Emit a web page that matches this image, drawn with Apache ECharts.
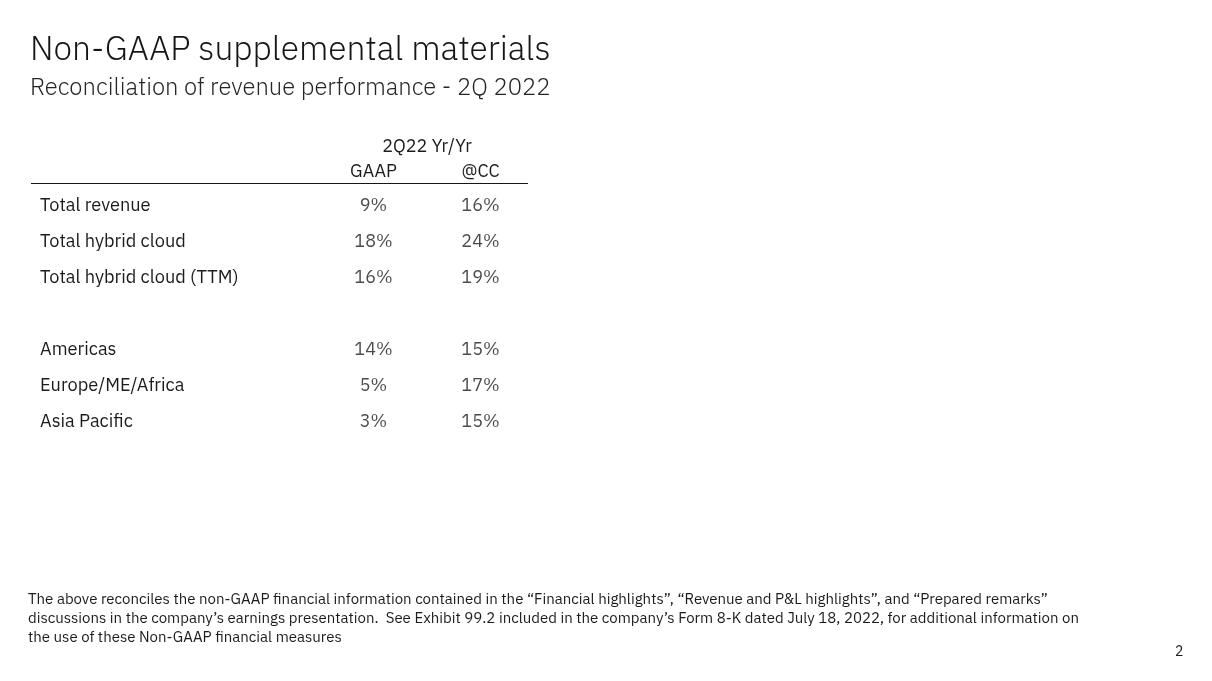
<!DOCTYPE html>
<html><head><meta charset="utf-8">
<script src="https://cdn.jsdelivr.net/npm/echarts@6/dist/echarts.min.js"></script>
<style>html,body{margin:0;padding:0;background:#fff}#c{width:1212px;height:681px}</style>
</head><body><div id="c"></div>
<script>
const rows = ['Total revenue','Total hybrid cloud','Total hybrid cloud (TTM)',' ','Americas','Europe/ME/Africa','Asia Pacific'];
const columns = ['GAAP','@CC'];
const gaapValues = [9, 18, 16, null, 14, 5, 3];
const ccValues = [16, 24, 19, null, 15, 17, 15];
const header = '2Q22 Yr/Yr';
const title = 'Non-GAAP supplemental materials';
const subtitle = 'Reconciliation of revenue performance - 2Q 2022';
const footnote = 'The above reconciles the non-GAAP financial information contained in the \u201cFinancial highlights\u201d, \u201cRevenue and P&L highlights\u201d, and \u201cPrepared remarks\u201d\ndiscussions in the company\u2019s earnings presentation.  See Exhibit 99.2 included in the company\u2019s Form 8-K dated July 18, 2022, for additional information on\nthe use of these Non-GAAP financial measures';
const pageNo = '2';

const FONT = '"IBM Plex Sans", "Noto Sans", "Open Sans", sans-serif';
const TXT = '#1c1c1c';

function toData(vals, col) {
  const out = [];
  vals.forEach((v, i) => { if (v !== null) out.push([col, i, v]); });
  return out;
}

const chart = echarts.init(document.getElementById('c'), null, {renderer: 'canvas'});
chart.setOption({
  backgroundColor: '#fff',
  animation: false,
  textStyle: {fontFamily: FONT},
  title: [
    {text: title, left: 30, top: 33, padding: [0, 0, 0, 0], textStyle: {fontSize: 33.6, fontWeight: 300, color: '#161616', fontFamily: FONT}},
    {text: subtitle, left: 30, top: 76, padding: [0, 0, 0, 0], textStyle: {fontSize: 23.8, fontWeight: 300, color: '#262626', fontFamily: FONT}},
    {text: footnote, left: 28, top: 590, padding: [0, 0, 0, 0], textStyle: {fontSize: 15, fontWeight: 'normal', color: TXT, lineHeight: 19, fontFamily: FONT}},
    {text: pageNo, left: 1175, top: 645, padding: [0, 0, 0, 0], textStyle: {fontSize: 14, fontWeight: 'normal', color: TXT, fontFamily: FONT}}
  ],
  grid: {left: 320, top: 188, width: 214, height: 252, containLabel: false},
  xAxis: {
    type: 'category', position: 'top', data: columns,
    axisLine: {show: false}, axisTick: {show: false}, splitLine: {show: false},
    axisLabel: {margin: 7, fontSize: 18, color: TXT, fontFamily: FONT},
    name: header, nameLocation: 'middle', nameGap: 32,
    nameTextStyle: {fontSize: 18, color: TXT, fontFamily: FONT}
  },
  yAxis: {
    type: 'category', inverse: true, data: rows,
    axisLine: {show: false}, axisTick: {show: false}, splitLine: {show: false},
    axisLabel: {align: 'left', margin: 280, fontSize: 18.2, color: TXT, fontFamily: FONT}
  },
  graphic: [
    {type: 'line', shape: {x1: 31, y1: 183.5, x2: 528, y2: 183.5}, style: {stroke: '#161616', lineWidth: 1}}
  ],
  series: [
    {name: 'GAAP', type: 'scatter', symbolSize: 0, data: toData(gaapValues, 0),
     label: {show: true, position: 'inside', formatter: p => p.value[2] + '%', fontSize: 18, color: TXT, fontFamily: FONT}},
    {name: '@CC', type: 'scatter', symbolSize: 0, data: toData(ccValues, 1),
     label: {show: true, position: 'inside', formatter: p => p.value[2] + '%', fontSize: 18, color: TXT, fontFamily: FONT}}
  ]
});
</script></body></html>
